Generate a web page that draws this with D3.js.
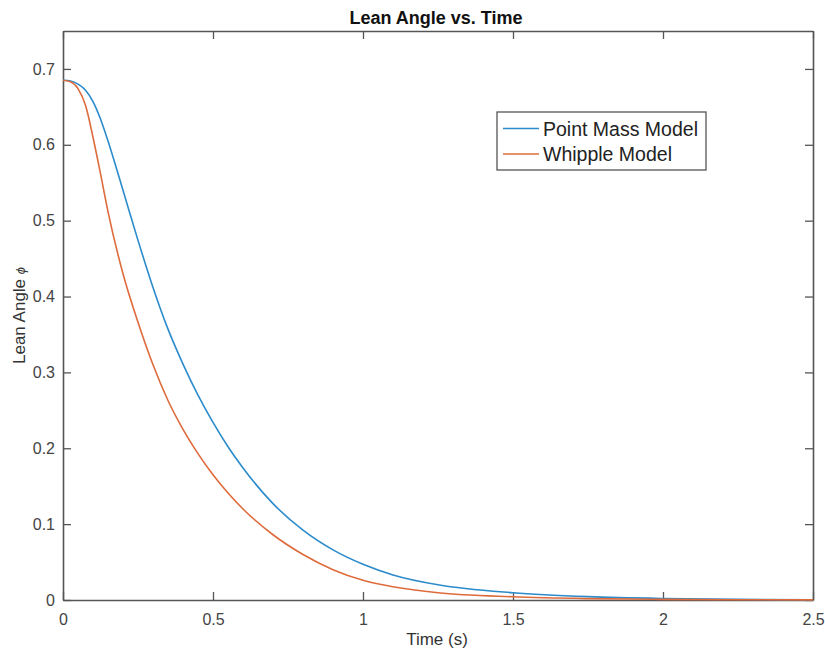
<!DOCTYPE html>
<html>
<head>
<meta charset="utf-8">
<script src="https://cdn.jsdelivr.net/npm/d3@7"></script>
<style>
  body { margin: 0; background: #fff; }
  svg { font-family: "Liberation Sans", Arial, Helvetica, sans-serif; }
</style>
</head>
<body>
<svg id="chart" width="825" height="652"></svg>
<script>
// time samples (s)
var times = [0, 0.025, 0.05, 0.075, 0.1, 0.125, 0.15, 0.2, 0.25, 0.3, 0.35, 0.4, 0.45, 0.5, 0.55, 0.6, 0.7, 0.8, 0.9, 1.0, 1.1, 1.25, 1.5, 1.75, 2.0, 2.25, 2.5];
// lean angle, point mass model
var pointMass = [0.685, 0.684, 0.680, 0.672, 0.657, 0.634, 0.605, 0.540, 0.474, 0.412, 0.357, 0.311, 0.270, 0.234, 0.202, 0.174, 0.127, 0.092, 0.066, 0.047, 0.033, 0.020, 0.0095, 0.0044, 0.0020, 0.0009, 0.0004];
// lean angle, whipple model
var whipple = [0.685, 0.683, 0.674, 0.652, 0.610, 0.562, 0.512, 0.430, 0.366, 0.310, 0.263, 0.225, 0.193, 0.165, 0.141, 0.120, 0.086, 0.060, 0.040, 0.026, 0.0175, 0.0095, 0.0042, 0.0018, 0.0008, 0.0003, 0.0001];

var xTicks = [0, 0.5, 1, 1.5, 2, 2.5];
var yTicks = [0, 0.1, 0.2, 0.3, 0.4, 0.5, 0.6, 0.7];
var seriesNames = ["Point Mass Model", "Whipple Model"];
var seriesColors = ["#2b8bcb", "#de6b3c"];

var pLeft = 63, pTop = 31, pRight = 813, pBottom = 600;
var svg = d3.select("#chart");

var x = d3.scaleLinear().domain([0, 2.5]).range([pLeft, pRight]);
var y = d3.scaleLinear().domain([0, 0.75]).range([pBottom, pTop]);

var axisCol = "#555";

// axes box with inward ticks on all sides
svg.append("g").attr("transform", "translate(0," + pBottom + ")")
  .call(d3.axisBottom(x).tickValues(xTicks).tickSizeInner(-8).tickSizeOuter(0).tickPadding(14).tickFormat(d3.format("")));
svg.append("g").attr("transform", "translate(0," + pTop + ")")
  .call(d3.axisTop(x).tickValues(xTicks).tickSizeInner(-8).tickSizeOuter(0).tickFormat(""));
svg.append("g").attr("transform", "translate(" + pLeft + ",0)")
  .call(d3.axisLeft(y).tickValues(yTicks).tickSizeInner(-8).tickSizeOuter(0).tickPadding(8).tickFormat(d3.format("")));
svg.append("g").attr("transform", "translate(" + pRight + ",0)")
  .call(d3.axisRight(y).tickValues(yTicks).tickSizeInner(-8).tickSizeOuter(0).tickFormat(""));

svg.selectAll(".domain").attr("stroke", axisCol).attr("stroke-width", 1.6);
svg.selectAll(".tick line").attr("stroke", axisCol).attr("stroke-width", 1.3);
svg.selectAll(".tick text").attr("fill", "#444").attr("font-size", 16);

// curves
var line = d3.line()
  .x(function(d, i) { return x(times[i]); })
  .y(function(d) { return y(d); })
  .curve(d3.curveMonotoneX);

[pointMass, whipple].forEach(function(s, k) {
  svg.append("path")
    .attr("d", line(s))
    .attr("fill", "none")
    .attr("stroke", seriesColors[k])
    .attr("stroke-width", 1.6);
});

// title and axis labels
svg.append("text").attr("x", 436).attr("y", 24)
  .attr("text-anchor", "middle").attr("font-weight", "bold").attr("font-size", 18).attr("fill", "#111")
  .text("Lean Angle vs. Time");
svg.append("text").attr("x", 437).attr("y", 645)
  .attr("text-anchor", "middle").attr("font-size", 17).attr("fill", "#333")
  .text("Time (s)");
var yl = svg.append("text")
  .attr("transform", "translate(25," + ((pTop + pBottom) / 2) + ") rotate(-90)")
  .attr("text-anchor", "middle").attr("font-size", 17).attr("fill", "#333");
yl.append("tspan").text("Lean Angle ");
yl.append("tspan").attr("font-style", "italic").attr("font-size", 13).text("\u03D5");

// legend
var lg = svg.append("g");
lg.append("rect").attr("x", 497).attr("y", 112).attr("width", 209).attr("height", 58)
  .attr("fill", "#fff").attr("stroke", "#555").attr("stroke-width", 1.3);
seriesNames.forEach(function(n, k) {
  var yy = 128.5 + k * 25.5;
  lg.append("line").attr("x1", 503).attr("x2", 539).attr("y1", yy).attr("y2", yy)
    .attr("stroke", seriesColors[k]).attr("stroke-width", 1.6);
  lg.append("text").attr("x", 543).attr("y", yy + 7).attr("font-size", 19.5).attr("fill", "#222").text(n);
});
</script>
</body>
</html>
